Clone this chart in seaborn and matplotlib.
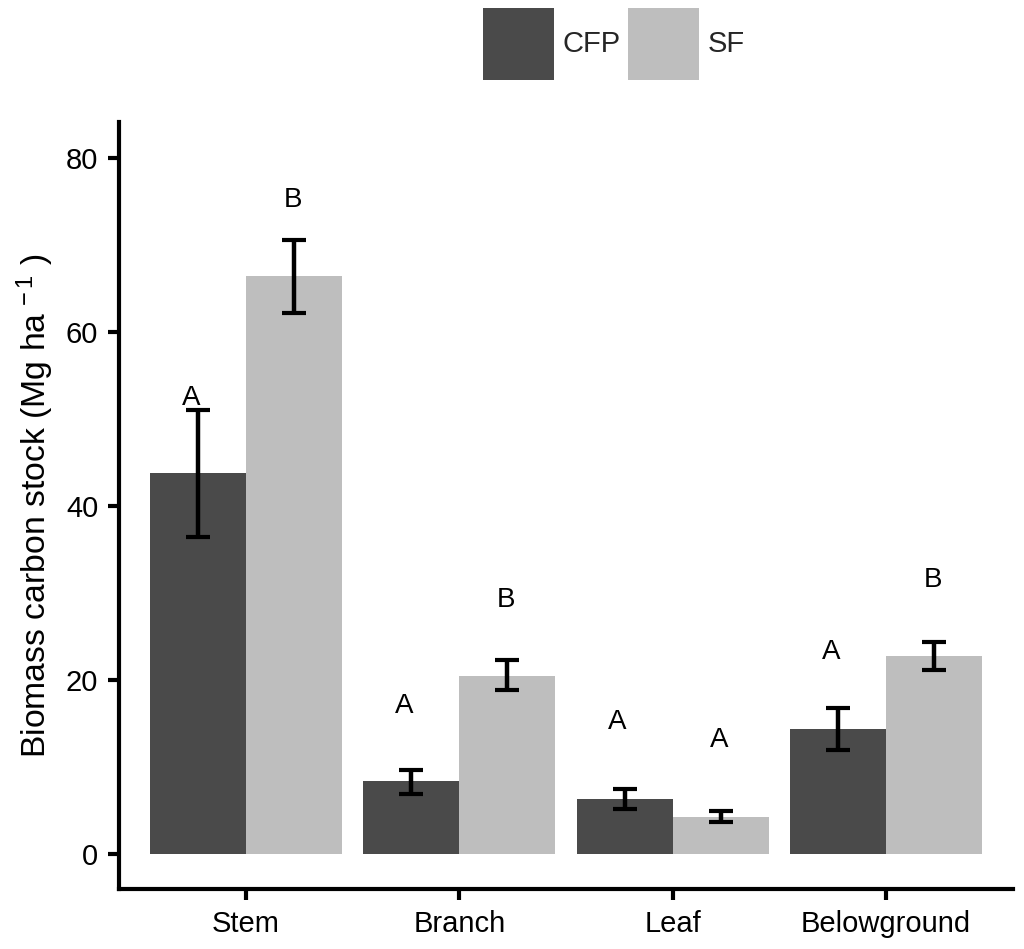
import matplotlib
matplotlib.use("Agg")
import matplotlib.pyplot as plt
import seaborn as sns
import pandas as pd
import numpy as np

categories = ["Stem", "Branch", "Leaf", "Belowground"]
groups = ["CFP", "SF"]
cfp_mean = [43.8, 8.4, 6.3, 14.4]
sf_mean = [66.4, 20.5, 4.25, 22.8]
cfp_lower = [36.4, 6.9, 5.2, 12.0]
cfp_upper = [51.0, 9.7, 7.5, 16.8]
sf_lower = [62.2, 18.9, 3.7, 21.1]
sf_upper = [70.6, 22.3, 4.9, 24.4]
cfp_letters = ["A", "A", "A", "A"]
sf_letters = ["B", "B", "A", "B"]
cfp_letter_y = [52.4, 17.0, 15.2, 23.2]
sf_letter_y = [75.2, 29.2, 13.1, 31.5]

df = pd.DataFrame({
    "component": categories * 2,
    "group": ["CFP"] * 4 + ["SF"] * 4,
    "value": cfp_mean + sf_mean,
    "lower": cfp_lower + sf_lower,
    "upper": cfp_upper + sf_upper,
    "letter": cfp_letters + sf_letters,
    "letter_y": cfp_letter_y + sf_letter_y,
})

sns.set_theme(style="white")
plt.rcParams['font.family'] = ['Liberation Sans', 'DejaVu Sans']
plt.rcParams['mathtext.fontset'] = 'custom'
plt.rcParams['mathtext.rm'] = 'Liberation Sans'
plt.rcParams['mathtext.it'] = 'Liberation Sans'

palette = {"CFP": "#4a4a4a", "SF": "#bebebe"}
letter_dx = {"CFP": -0.033, "SF": -0.005}

fig = plt.figure(figsize=(10.24, 9.49), dpi=100)
ax = fig.add_axes([119/1024, 60/949, (1013-119)/1024, (889-122)/949])

sns.barplot(data=df, x="component", y="value", hue="group", order=categories,
            hue_order=groups, palette=palette, errorbar=None, width=0.9,
            saturation=1, linewidth=0, ax=ax, legend=True)

for gi, g in enumerate(groups):
    sub = df[df["group"] == g]
    cont = ax.containers[gi]
    for bar, (_, row) in zip(cont, sub.iterrows()):
        xc = bar.get_x() + bar.get_width() / 2
        ax.errorbar(xc, row["value"],
                    yerr=[[row["value"] - row["lower"]], [row["upper"] - row["value"]]],
                    fmt="none", ecolor="black", elinewidth=3.2, capsize=8.3,
                    capthick=3.0)
        ax.text(xc + letter_dx[g], row["letter_y"], row["letter"], ha="center",
                va="center", fontsize=20, color="black")

ax.set_xlim(-0.595, 3.595)
ax.set_ylim(-4.02, 84.14)
ax.set_yticks([0, 20, 40, 60, 80])
ax.set_xlabel("")
ax.set_ylabel("Biomass carbon stock (Mg ha$^{\\,-1}$ )", fontsize=24.3, color="black",
              labelpad=7)
for s in ["top", "right"]:
    ax.spines[s].set_visible(False)
for s in ["left", "bottom"]:
    ax.spines[s].set_linewidth(3.0)
    ax.spines[s].set_color("black")
ax.tick_params(axis="both", which="major", length=8, width=3.0, color="black",
               labelsize=21, labelcolor="black", left=True, bottom=True)
ax.tick_params(axis="y", pad=7)
ax.tick_params(axis="x", pad=7)

handles, labels = ax.get_legend_handles_labels()
ax.get_legend().remove()
fig.legend(handles, labels, loc="center", bbox_to_anchor=(614/1024, 1 - 44/949),
           ncol=2, frameon=False, fontsize=21, handlelength=2.43, handleheight=3.42,
           handletextpad=0.3, columnspacing=0.27, borderpad=0, borderaxespad=0)

fig.savefig("out.png", dpi=100)
